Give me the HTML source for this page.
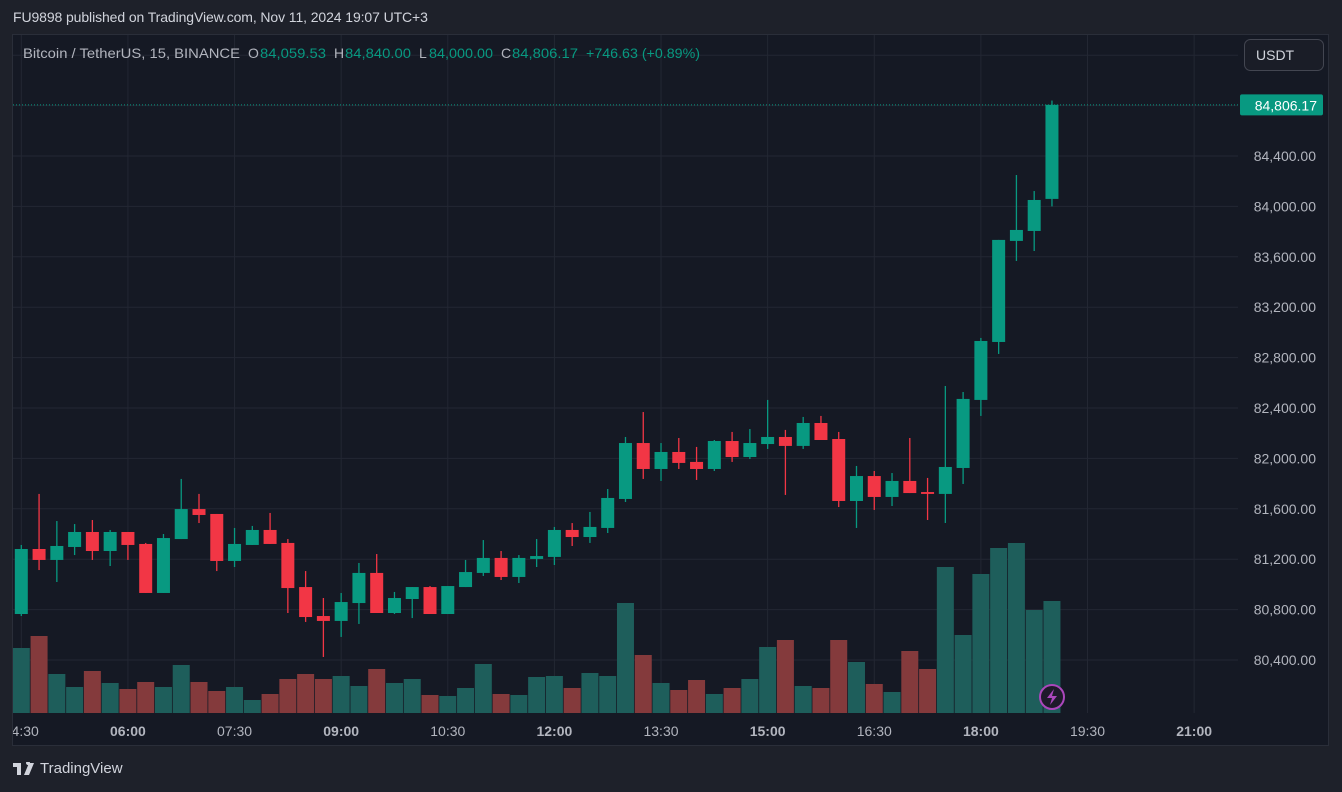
<!DOCTYPE html>
<html><head><meta charset="utf-8">
<style>
html,body{margin:0;padding:0;background:#1e212a;width:1342px;height:792px;overflow:hidden;font-family:"Liberation Sans",sans-serif}
#title{position:absolute;left:13px;top:9px;font-size:14px;color:#d1d4dc;letter-spacing:-0.1px}
#pane{position:absolute;left:12px;top:34px;width:1317px;height:712px;border:1px solid #2a2e39;background:#151924;box-sizing:border-box}
#logo{position:absolute;left:13px;top:760px;color:#d1d4dc;font-size:15px;display:flex;align-items:center;gap:5px}
svg text{font-family:"Liberation Sans",sans-serif}
</style></head><body>
<div id="title">FU9898 published on TradingView.com, Nov 11, 2024 19:07 UTC+3</div>
<div id="pane"></div>
<svg id="chart" width="1342" height="792" style="position:absolute;left:0;top:0">
<defs><clipPath id="plotclip"><rect x="13" y="35" width="1225" height="678"/></clipPath>
<clipPath id="timeclip"><rect x="13" y="713" width="1315" height="33"/></clipPath></defs>
<g id="grid"></g><g id="vol" clip-path="url(#plotclip)"></g><g id="candles" clip-path="url(#plotclip)"></g>
<g id="paxis"></g><g id="taxis" clip-path="url(#timeclip)"></g><g id="overlay"></g>
</svg>
<div id="logo"><svg width="22" height="14" viewBox="0 0 22 14"><path d="M0 1h8v12H4V5H0z M13 1a2 2 0 1 1 0 .01z M16 1h5l-5 12h-5z" fill="#d1d4dc"/></svg><span>TradingView</span></div>
<script>
const opens=[80765,81281,81194,81297,81416,81265,81416,81321,80932,81360,81598,81559,81186,81313,81432,81329,80979,80749,80710,80852,81091,80773,80884,80979,80765,80979,81091,81210,81059,81202,81218,81432,81376,81448,81678,82122,81916,82051,81972,81916,82138,82011,82114,82170,82099,82281,82154,81662,81860,81694,81821,81733,81718,81924,82464,82924,83726,83805,84059.53];
const highs=[81313,81718,81503,81479,81511,81432,81416,81329,81400,81837,81718,81559,81448,81464,81567,81360,81106,80892,80932,81170,81241,80940,80979,80987,80987,81194,81352,81265,81233,81360,81456,81487,81575,81757,82170,82368,82122,82162,82091,82146,82210,82233,82464,82226,82329,82337,82210,81940,81900,81884,82162,81845,82575,82527,82956,83734,84249,84122,84840];
const lows=[80749,81114,81019,81233,81194,81146,81194,80932,80932,81360,81487,81106,81138,81313,81321,80773,80702,80424,80583,80686,80773,80765,80733,80765,80765,80979,81067,81035,81011,81138,81154,81305,81329,81408,81654,81837,81821,81916,81829,81900,81972,81995,82075,81710,82075,82146,81614,81448,81591,81622,81725,81511,81487,81797,82337,82829,83567,83646,84000];
const closes=[81281,81194,81305,81416,81265,81416,81313,80932,81368,81598,81551,81186,81321,81432,81321,80971,80741,80710,80860,81091,80773,80892,80979,80765,80987,81098,81210,81059,81210,81225,81432,81376,81456,81686,82122,81916,82051,81964,81916,82138,82011,82122,82170,82099,82281,82146,81662,81860,81694,81821,81725,81718,81932,82472,82932,83734,83813,84051,84806.17];
const volumes=[65,77,39,26,42,30,24,31,26,48,31,22,26,13,19,34,39,34,37,27,44,30,34,18,17,25,49,19,18,36,37,25,40,37,110,58,30,23,33,19,25,34,66,73,27,25,73,51,29,21,62,44,146,78,139,165,170,103,112];
const priceTicks=[80400,80800,81200,81600,82000,82400,82800,83200,83600,84000,84400];
const timeTicks=["04:30","06:00","07:30","09:00","10:30","12:00","13:30","15:00","16:30","18:00","19:30","21:00"];
const timeTickBold=[false,true,false,true,false,true,false,true,false,true,false,true];
const NS="http://www.w3.org/2000/svg";
const X0=21.3, BAR=17.77;
const xOf=i=>X0+i*BAR;
const yOf=p=>660-(p-80400)*0.126;
const volBase=713, volScale=1;
function mk(tag,attrs,parent){const e=document.createElementNS(NS,tag);for(const k in attrs)e.setAttribute(k,attrs[k]);parent.appendChild(e);return e;}
const grid=document.getElementById('grid'),vol=document.getElementById('vol'),cg=document.getElementById('candles'),pa=document.getElementById('paxis'),ta=document.getElementById('taxis'),ov=document.getElementById('overlay');
[...priceTicks,84800,85200].forEach(p=>{const l=mk('line',{x1:13,x2:1238,y1:yOf(p),y2:yOf(p),stroke:'#232733','stroke-width':1},grid);

});
timeTicks.forEach((t,k)=>{const x=xOf(k*6);const l=mk('line',{x1:x,x2:x,y1:35,y2:713,stroke:'#232733','stroke-width':1},grid);


const tx=mk('text',{x:x,y:736,'text-anchor':'middle','font-size':14,fill:'#b2b5be','font-weight':timeTickBold[k]?'bold':'normal'},ta);tx.textContent=t;

});
volumes.forEach((v,i)=>{const up=closes[i]>=opens[i];const r=mk('rect',{x:xOf(i)-8.5,y:volBase-v*volScale,width:17,height:v*volScale,fill:up?'#1e5e5b':'#843a3c'},vol);

});
opens.forEach((o,i)=>{const c=closes[i],up=c>=o,col=up?'#089981':'#f23645',x=xOf(i);
const w=mk('line',{x1:x,x2:x,y1:yOf(highs[i]),y2:yOf(lows[i]),stroke:col,'stroke-width':1.3},cg);


const t=yOf(Math.max(o,c)),b=yOf(Math.min(o,c));
const r=mk('rect',{x:x-6.5,y:t,width:13,height:Math.max(1.5,b-t),fill:col},cg);

});
priceTicks.forEach(p=>{const t=mk('text',{x:1316,y:yOf(p)+5,'text-anchor':'end','font-size':14,fill:'#b2b5be'},pa);t.textContent=p.toLocaleString('en-US',{minimumFractionDigits:2});

});
const last=closes[closes.length-1],ly=yOf(last);
const dl=mk('line',{x1:13,x2:1238,y1:ly,y2:ly,stroke:'#089981','stroke-width':1,'stroke-dasharray':'1 2'},ov);


const lb=mk('rect',{x:1240,y:ly-10.5,width:83,height:21,rx:2,fill:'#089981'},ov);


const lt=mk('text',{x:1317,y:ly+5.5,'text-anchor':'end','font-size':14,fill:'#ffffff'},ov);lt.textContent=last.toLocaleString('en-US',{minimumFractionDigits:2});


const ub=mk('rect',{x:1244.5,y:39.5,width:79,height:31,rx:6,fill:'#1a1d27',stroke:'#434651'},ov);


const ut=mk('text',{x:1256,y:60,'font-size':14,fill:'#d1d4dc'},ov);ut.textContent='USDT';


const lg=mk('text',{x:23,y:58,'font-size':14,fill:'#b2b5be'},ov);


[['Bitcoin / TetherUS, 15, BINANCE',23,'#b2b5be',217],['O',248,'#b2b5be',0],['84,059.53',260,'#089981',66],['H',334,'#b2b5be',0],['84,840.00',345,'#089981',66],['L',419,'#b2b5be',0],['84,000.00',429,'#089981',64],['C',501,'#b2b5be',0],['84,806.17',512,'#089981',66],['+746.63 (+0.89%)',586,'#089981',114]].forEach(([s,x,f,w])=>{const a={x:x,fill:f};if(w){a.textLength=w;a.lengthAdjust='spacingAndGlyphs';}const sp=mk('tspan',a,lg);sp.textContent=s;});
const ic=mk('g',{},ov);


mk('circle',{cx:1052,cy:697,r:12,fill:'#1e1a2a',stroke:'#ab47bc','stroke-width':2},ic);
mk('path',{d:'M1054 689 L1047 698 L1052 698 L1050 705 L1057 696 L1052 696 Z',fill:'#ab47bc'},ic);
</script>
</body></html>
